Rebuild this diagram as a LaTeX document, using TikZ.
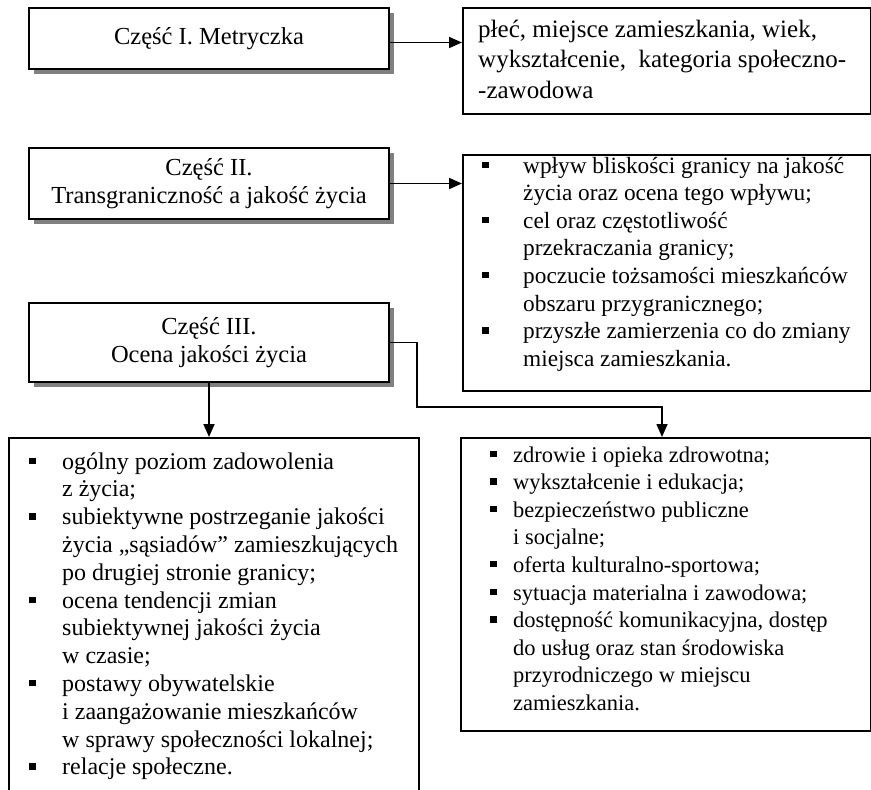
\documentclass[tikz,border=0pt]{standalone}
\usepackage{fontspec}
\setmainfont{Liberation Serif}
\usetikzlibrary{arrows.meta,shadows}
\newcommand{\sqbul}[1]{\makebox[#1][l]{\rule[5pt]{6.5pt}{6.5pt}}}
\begin{document}
\begin{tikzpicture}[x=1pt,y=-1pt,
  box/.style={draw,line width=2pt,fill=white,inner sep=0pt,anchor=north west},
  shbox/.style={box,drop shadow={shadow xshift=5pt,shadow yshift=-5pt,fill=black!50,opacity=1}},
  conn/.style={line width=1.6pt,-{Triangle[length=13pt,width=11pt]}},
  headfont/.style={font=\fontsize{24.5}{27.6}\selectfont},
  txt/.style={inner sep=0pt,anchor=base west}]
\path[clip] (0,0) rectangle (871,790);
% left boxes with shadows
\node[shbox,minimum width=360pt,minimum height=61pt,headfont] (b1) at (28,7) {Część I. Metryczka};
\node[shbox,minimum width=360pt,minimum height=71pt,headfont,align=center] (b2) at (28,147) {Część II.\\Transgraniczność a jakość życia};
\node[shbox,minimum width=360pt,minimum height=79pt,headfont,align=center] (b3) at (28,302) {Część III.\\Ocena jakości życia};
% right / lower boxes
\node[box,minimum width=408pt,minimum height=106pt] (r1) at (462,7) {};
\node[box,minimum width=408pt,minimum height=236pt] (r2) at (462,154) {};
\node[box,minimum width=410pt,minimum height=400pt] (ll) at (8,437) {};
\node[box,minimum width=410pt,minimum height=293pt] (lr) at (460,437) {};
% texts
\node[txt,font=\fontsize{25}{30.5}\selectfont] (t1) at (478,37) {\begin{tabular}[t]{@{}l@{}}
płeć, miejsce zamieszkania, wiek,\\
wykształcenie,\ \ kategoria społeczno-\\
-zawodowa
\end{tabular}};
\node[txt,font=\fontsize{23.3}{27.6}\selectfont] (t2) at (482,173) {\begin{tabular}[t]{@{}l@{}l@{}}
\sqbul{41pt} & wpływ bliskości granicy na jakość\\
 & życia oraz ocena tego wpływu;\\
\sqbul{41pt} & cel oraz częstotliwość\\
 & przekraczania granicy;\\
\sqbul{41pt} & poczucie tożsamości mieszkańców\\
 & obszaru przygranicznego;\\
\sqbul{41pt} & przyszłe zamierzenia co do zmiany\\
 & miejsca zamieszkania.
\end{tabular}};
\node[txt,font=\fontsize{24}{27.8}\selectfont] (t3) at (29,469) {\begin{tabular}[t]{@{}l@{}l@{}}
\sqbul{33pt} & ogólny poziom zadowolenia\\
 & z życia;\\
\sqbul{33pt} & subiektywne postrzeganie jakości\\
 & życia „sąsiadów” zamieszkujących\\
 & po drugiej stronie granicy;\\
\sqbul{33pt} & ocena tendencji zmian\\
 & subiektywnej jakości życia\\
 & w czasie;\\
\sqbul{33pt} & postawy obywatelskie\\
 & i zaangażowanie mieszkańców\\
 & w sprawy społeczności lokalnej;\\
\sqbul{33pt} & relacje społeczne.
\end{tabular}};
\node[txt,font=\fontsize{22.5}{27.6}\selectfont] (t4) at (490,462) {\begin{tabular}[t]{@{}l@{}l@{}}
\sqbul{23pt} & zdrowie i opieka zdrowotna;\\
\sqbul{23pt} & wykształcenie i edukacja;\\
\sqbul{23pt} & bezpieczeństwo publiczne\\
 & i socjalne;\\
\sqbul{23pt} & oferta kulturalno-sportowa;\\
\sqbul{23pt} & sytuacja materialna i zawodowa;\\
\sqbul{23pt} & dostępność komunikacyjna, dostęp\\
 & do usług oraz stan środowiska\\
 & przyrodniczego w miejscu\\
 & zamieszkania.
\end{tabular}};
% connectors
\coordinate (k1) at (417,407);
\coordinate (k2) at (662,407);
\draw[conn] ([yshift=-4pt]b1.east) -- ([yshift=-4pt]b1.east -| r1.west);
\draw[conn] (b2.east) -- (b2.east -| r2.west);
\draw[conn] (b3.south) -- (b3.south |- ll.north);
\draw[conn] (b3.east) -| (k1) -- (k2) -- (k2 |- lr.north);
\end{tikzpicture}
\end{document}
